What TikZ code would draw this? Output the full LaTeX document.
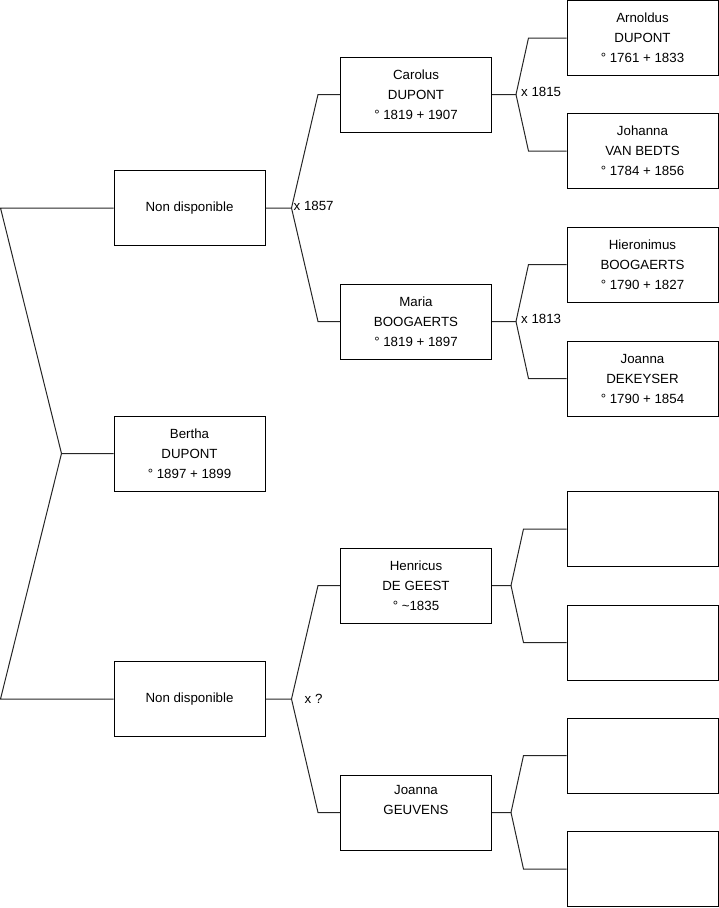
\documentclass[tikz,border=0pt]{standalone}
\usepackage{fontspec}
\setmainfont{Liberation Sans}
\begin{document}
\begin{tikzpicture}[x=1pt,y=-1pt,
  person/.style={draw=black,line width=1pt,minimum width=151pt,minimum height=75pt,inner sep=0pt,align=center,font=\fontsize{13.3}{20}\selectfont},
  link/.style={draw=black!85,line width=1pt},
  marr/.style={anchor=west,inner sep=0pt,font=\fontsize{13.3}{15}\selectfont}]
\useasboundingbox (0,0) rectangle (719,908);
% level 0
\node[person] (bertha) at (189.5,453.5) {Bertha\\DUPONT\\° 1897 + 1899};
% level 1
\node[person] (nda) at (189.5,208) {Non disponible};
\node[person] (ndb) at (189.5,699) {Non disponible};
% level 2
\node[person] (car) at (416,94.5) {Carolus\\DUPONT\\° 1819 + 1907};
\node[person] (mar) at (416,321.5) {Maria\\BOOGAERTS\\° 1819 + 1897};
\node[person] (hen) at (416,585.5) {Henricus\\DE GEEST\\° \textasciitilde 1835};
\node[person] (geu) at (416,812.5) {Joanna\\GEUVENS\\\strut};
% level 3
\node[person] (arn) at (642.5,38) {Arnoldus\\DUPONT\\° 1761 + 1833};
\node[person] (joh) at (642.5,151) {Johanna\\VAN BEDTS\\° 1784 + 1856};
\node[person] (hie) at (642.5,264.5) {Hieronimus\\BOOGAERTS\\° 1790 + 1827};
\node[person] (jod) at (642.5,378.5) {Joanna\\DEKEYSER\\° 1790 + 1854};
\node[person] (e1) at (642.5,529) {};
\node[person] (e2) at (642.5,642.5) {};
\node[person] (e3) at (642.5,755.5) {};
\node[person] (e4) at (642.5,869) {};
% connectors level 0 -> 1
\draw[link] (bertha.west) -- ++(-52,0) coordinate (j0) -- ([xshift=-113pt]nda.west) -- (nda.west);
\draw[link] (j0) -- ([xshift=-113pt]ndb.west) -- (ndb.west);
% level 1 -> 2
\draw[link] (nda.east) -- ++(26,0) coordinate (j1) -- ([xshift=-22pt]car.west) -- (car.west);
\draw[link] (j1) -- ([xshift=-22pt]mar.west) -- (mar.west);
\node[marr] (m1) at ([xshift=2pt,yshift=1.7pt]j1) {x 1857};
\draw[link] (ndb.east) -- ++(26,0) coordinate (j2) -- ([xshift=-22pt]hen.west) -- (hen.west);
\draw[link] (j2) -- ([xshift=-22pt]geu.west) -- (geu.west);
\node[marr] (m2) at ([xshift=13pt]j2) {x ?};
% level 2 -> 3
\draw[link] (car.east) -- ++(24,0) coordinate (j3) -- ([xshift=-38pt]arn.west) -- (arn.west);
\draw[link] (j3) -- ([xshift=-38pt]joh.west) -- (joh.west);
\node[marr] (m3) at ([xshift=5pt,yshift=3pt]j3) {x 1815};
\draw[link] (mar.east) -- ++(24,0) coordinate (j4) -- ([xshift=-38pt]hie.west) -- (hie.west);
\draw[link] (j4) -- ([xshift=-38pt]jod.west) -- (jod.west);
\node[marr] (m4) at ([xshift=5pt,yshift=3pt]j4) {x 1813};
\draw[link] (hen.east) -- ++(19,0) coordinate (j5) -- ([xshift=-43pt]e1.west) -- (e1.west);
\draw[link] (j5) -- ([xshift=-43pt]e2.west) -- (e2.west);
\draw[link] (geu.east) -- ++(19,0) coordinate (j6) -- ([xshift=-43pt]e3.west) -- (e3.west);
\draw[link] (j6) -- ([xshift=-43pt]e4.west) -- (e4.west);
\end{tikzpicture}
\end{document}
